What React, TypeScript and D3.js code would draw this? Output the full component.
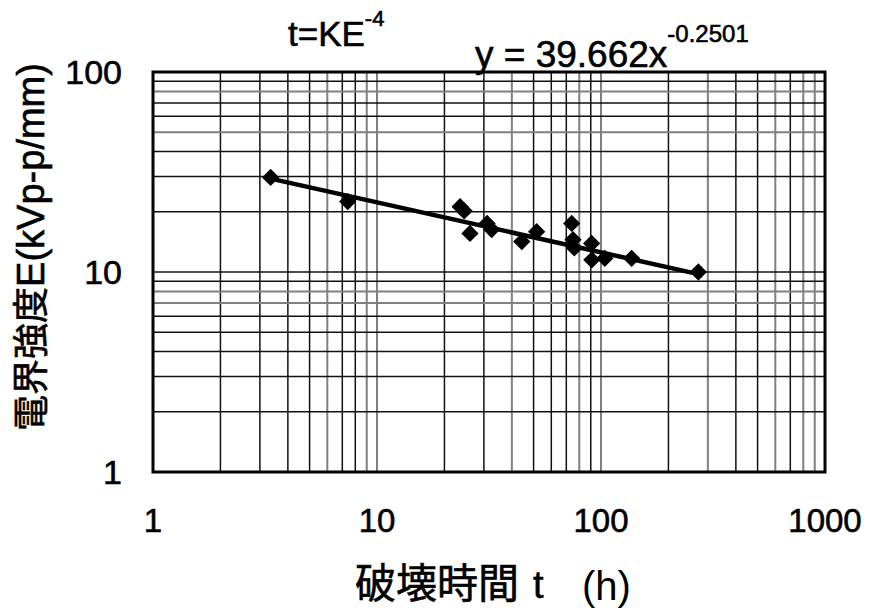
import React from "react";
import * as d3 from "d3";

// Breakdown time t (h) and the applied field strength E (kVp-p/mm)
const breakdownHours = [3.35, 7.4, 23.5, 24.5, 26, 31, 32.5, 44.3, 51.6, 74, 75, 76, 90.8, 91, 104, 137, 272];
const fieldStrength = [29.7, 22.5, 21.2, 20.2, 15.6, 17.5, 16.3, 14.2, 15.9, 17.5, 14.5, 13.2, 13.9, 11.5, 11.7, 11.7, 10.0];

// Power-law fit y = a * x^b
const fitCoef = 39.662;
const fitExp = -0.2501;

const xTickValues = [1, 10, 100, 1000];
const yTickValues = [1, 10, 100];

const W = 869;
const H = 610;
const M = { left: 153, right: 825, top: 72, bottom: 472 };

// grid lines printed lighter on the log paper
const lightX = new Set([6, 9, 10, 40, 80, 100, 300, 600, 800, 900]);
const lightY = new Set([80, 50, 8, 7]);

export default function App() {
  const x = d3.scaleLog().domain([1, 1000]).range([M.left, M.right]);
  const y = d3.scaleLog().domain([1, 100]).range([M.bottom, M.top]);

  const gridX: number[] = [];
  for (const decade of [1, 10, 100]) for (let k = 2; k <= 9; k++) gridX.push(k * decade);
  gridX.push(10, 100);
  const gridY: number[] = [];
  for (const decade of [1, 10]) for (let k = 2; k <= 9; k++) gridY.push(k * decade);
  gridY.push(10);

  const fitX = d3.extent(breakdownHours) as [number, number];
  const fitLine = d3
    .line<number>()
    .x((t) => x(t))
    .y((t) => y(fitCoef * Math.pow(t, fitExp)));

  const diamond = d3.symbol().type(d3.symbolDiamond2).size(190)() as string;

  const latin = "'Liberation Sans', Arial, sans-serif";
  const cjk = "'Noto Sans CJK JP', 'Liberation Sans', sans-serif";
  const ink = { fill: "#000", stroke: "#000", strokeWidth: 0.6 };

  return (
    <div style={{ position: "absolute", left: 0, top: 0 }}>
      <svg width={W} height={H} viewBox={`0 0 ${W} ${H}`} style={{ display: "block", background: "#fff" }}>
        <rect x={0} y={0} width={W} height={H} fill="#fff" />
        {/* grid */}
        {gridX.map((v, i) => (
          <line
            key={"gx" + i}
            x1={x(v)}
            x2={x(v)}
            y1={M.top}
            y2={M.bottom}
            stroke={lightX.has(v) ? "#808080" : "#111"}
            strokeWidth={lightX.has(v) ? 2 : 1.5}
          />
        ))}
        {gridY.map((v, i) => (
          <line
            key={"gy" + i}
            x1={M.left}
            x2={M.right}
            y1={y(v)}
            y2={y(v)}
            stroke={lightY.has(v) ? "#808080" : "#111"}
            strokeWidth={lightY.has(v) ? 2 : 1.5}
          />
        ))}
        {/* frame */}
        <rect
          x={M.left}
          y={M.top}
          width={M.right - M.left}
          height={M.bottom - M.top}
          fill="none"
          stroke="#000"
          strokeWidth={3}
        />
        {/* fitted line */}
        <path d={fitLine(fitX) as string} fill="none" stroke="#000" strokeWidth={4.5} />
        {/* measurements */}
        {breakdownHours.map((t, i) => (
          <path key={"p" + i} d={diamond} transform={`translate(${x(t)},${y(fieldStrength[i])})`} fill="#000" />
        ))}
        {/* x tick labels */}
        {xTickValues.map((v) => (
          <text key={"xt" + v} x={x(v)} y={532} textAnchor="middle" fontFamily={latin} fontSize={33} {...ink}>
            {v}
          </text>
        ))}
        {/* y tick labels */}
        {yTickValues.map((v) => (
          <text
            key={"yt" + v}
            x={122}
            y={y(v)}
            dy="0.36em"
            textAnchor="end"
            fontFamily={latin}
            fontSize={34}
            {...ink}
          >
            {v}
          </text>
        ))}
        {/* titles */}
        <text x={288} y={46} fontFamily={latin} fontSize={35} {...ink}>
          t=KE
          <tspan dy={-20} fontSize={22}>
            -4
          </tspan>
        </text>
        <text x={475} y={67} fontFamily={latin} fontSize={37} {...ink}>
          {`y = ${fitCoef}x`}
          <tspan dy={-25} fontSize={24}>
            {fitExp}
          </tspan>
        </text>
        {/* axis titles */}
        <text x={355} y={598} fontFamily={cjk} fontSize={41} {...ink}>
          破壊時間
          <tspan dx={14} fontFamily={latin} fontSize={38}>
            t
          </tspan>
        </text>
        <text x={582} y={600} fontFamily={latin} fontSize={40} fill="#000">
          (h)
        </text>
        <text
          transform={`translate(44,${(M.top + M.bottom) / 2 - 25}) rotate(-90)`}
          textAnchor="middle"
          fontFamily={cjk}
          fontSize={36}
          {...ink}
        >
          電界強度
          <tspan fontFamily={latin} fontSize={38}>
            E(kVp-p/mm)
          </tspan>
        </text>
      </svg>
    </div>
  );
}
